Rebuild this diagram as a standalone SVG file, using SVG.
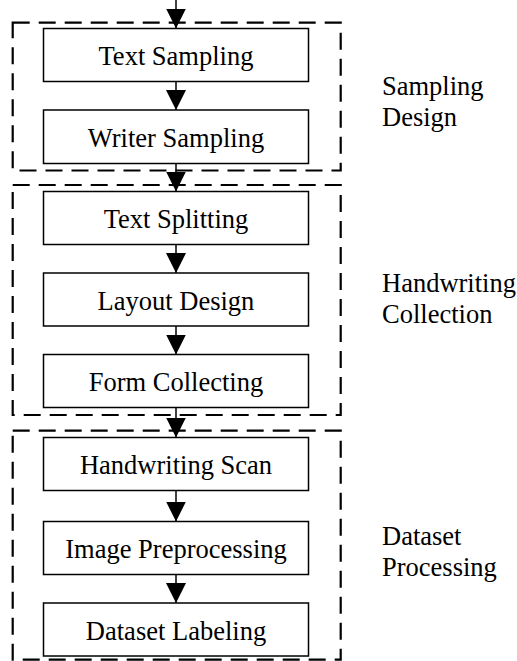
<svg xmlns="http://www.w3.org/2000/svg" width="517" height="661" viewBox="0 0 517 661" font-family="'Liberation Serif', 'Times New Roman', 'DejaVu Serif', serif">
<defs>
<style>
.box{fill:#fff;stroke:#000;stroke-width:1.5}
.grp{fill:none;stroke:#000;stroke-width:2.2;stroke-dasharray:17 9}
text{font-family:'Liberation Serif','Times New Roman','DejaVu Serif',serif;font-size:26.5px;fill:#000}
.c{text-anchor:middle}
.conn{stroke:#000;stroke-width:1.5;fill:none;marker-end:url(#ah)}
</style>
<marker id="ah" viewBox="0 0 20 20" refX="20" refY="10" markerWidth="20" markerHeight="20" orient="auto" markerUnits="userSpaceOnUse">
<path d="M0,0 L20,10 L0,20 z" fill="#000"/>
</marker>
</defs>
<rect width="517" height="661" fill="#fff"/>
<g id="group-sampling">
<rect class="grp" x="12.7" y="22.7" width="328" height="147.8"/>
<text x="382" y="95">Sampling</text>
<text x="382" y="126">Design</text>
</g>
<g id="group-collection">
<rect class="grp" x="12.7" y="185" width="328" height="230"/>
<text x="382" y="292">Handwriting</text>
<text x="382" y="323">Collection</text>
</g>
<g id="group-processing">
<rect class="grp" x="12.7" y="430.7" width="328" height="229"/>
<text x="382" y="545">Dataset</text>
<text x="382" y="576">Processing</text>
</g>
<g id="connectors">
<line class="conn" x1="176" y1="0" x2="176" y2="28.5"/>
<line class="conn" x1="176" y1="81.5" x2="176" y2="110"/>
<line class="conn" x1="176" y1="163.5" x2="176" y2="191.5"/>
<line class="conn" x1="176" y1="244.5" x2="176" y2="273"/>
<line class="conn" x1="176" y1="326" x2="176" y2="354.5"/>
<line class="conn" x1="176" y1="407.5" x2="176" y2="437.5"/>
<line class="conn" x1="176" y1="490.5" x2="176" y2="521.5"/>
<line class="conn" x1="176" y1="574.5" x2="176" y2="603"/>
</g>
<g id="text-sampling">
<rect class="box" x="43.5" y="28.5" width="265" height="53"/>
<text class="c" x="176" y="65">Text Sampling</text>
</g>
<g id="writer-sampling">
<rect class="box" x="43.5" y="110" width="265" height="53.5"/>
<text class="c" x="176" y="146.5">Writer Sampling</text>
</g>
<g id="text-splitting">
<rect class="box" x="43.5" y="191.5" width="265" height="53"/>
<text class="c" x="176" y="228">Text Splitting</text>
</g>
<g id="layout-design">
<rect class="box" x="43.5" y="273" width="265" height="53"/>
<text class="c" x="176" y="309.5">Layout Design</text>
</g>
<g id="form-collecting">
<rect class="box" x="43.5" y="354.5" width="265" height="53"/>
<text class="c" x="176" y="391">Form Collecting</text>
</g>
<g id="handwriting-scan">
<rect class="box" x="43.5" y="437.5" width="265" height="53"/>
<text class="c" x="176" y="474">Handwriting Scan</text>
</g>
<g id="image-preprocessing">
<rect class="box" x="43.5" y="521.5" width="265" height="53"/>
<text class="c" x="176" y="558">Image Preprocessing</text>
</g>
<g id="dataset-labeling">
<rect class="box" x="43.5" y="603" width="265" height="53"/>
<text class="c" x="176" y="639.5">Dataset Labeling</text>
</g>
</svg>
